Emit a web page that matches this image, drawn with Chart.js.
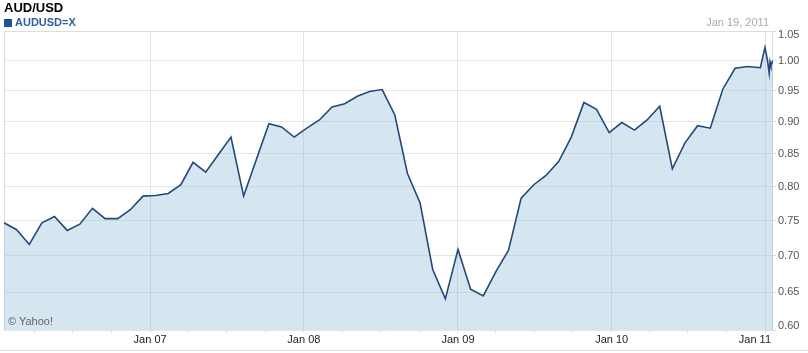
<!DOCTYPE html>
<html><head><meta charset="utf-8">
<script src="https://cdn.jsdelivr.net/npm/chart.js@4/dist/chart.umd.min.js"></script>
<style>
html,body{margin:0;padding:0;background:#fff;}
#wrap{position:relative;width:808px;height:353px;overflow:hidden;font-family:"Liberation Sans",Arial,sans-serif;}
canvas{position:absolute;left:0;top:0;}
.t{position:absolute;white-space:nowrap;}
</style></head><body>
<div id="wrap">
<canvas id="c" width="808" height="353"></canvas>
<div class="t" style="left:4px;top:1px;font-size:13px;line-height:13px;font-weight:bold;color:#000;">AUD/USD</div>
<div class="t" style="left:4px;top:17px;font-size:11px;line-height:11px;font-weight:bold;color:#2e6099;"><span style="display:inline-block;width:8px;height:8px;background:#1f5590;margin-right:3px;vertical-align:-1px;"></span>AUDUSD=X</div>
<div class="t" style="right:39px;top:17px;font-size:11px;line-height:11px;color:#ababab;">Jan 19, 2011</div>
<div class="t" style="left:8px;top:316px;font-size:11px;line-height:11px;color:#666;">© Yahoo!</div>
<div style="position:absolute;left:0;top:350px;width:808px;height:1px;background:#dcdcdc"></div>
</div>
<script>
// ---- data ----
const dates = [
 '2006-01-19','2006-02-18','2006-03-20','2006-04-19','2006-05-19','2006-06-18','2006-07-18','2006-08-17',
 '2006-09-16','2006-10-16','2006-11-15','2006-12-15','2007-01-14','2007-02-13','2007-03-15','2007-04-13',
 '2007-05-13','2007-06-12','2007-07-12','2007-08-11','2007-09-10','2007-10-10','2007-11-09','2007-12-09',
 '2008-01-08','2008-02-07','2008-03-08','2008-04-07','2008-05-07','2008-06-05','2008-07-05','2008-08-04',
 '2008-09-03','2008-10-03','2008-11-02','2008-12-02','2009-01-01','2009-01-31','2009-03-02','2009-04-01',
 '2009-05-01','2009-05-31','2009-06-30','2009-07-29','2009-08-28','2009-09-27','2009-10-27','2009-11-26',
 '2009-12-26','2010-01-25','2010-02-24','2010-03-26','2010-04-25','2010-05-25','2010-06-24','2010-07-24',
 '2010-08-23','2010-09-22','2010-10-21','2010-11-20','2010-12-20',
 '2010-12-31','2011-01-06','2011-01-10','2011-01-12','2011-01-14','2011-01-19'
];
const closes = [
 0.747,0.737,0.716,0.747,0.756,0.736,0.745,0.768,
 0.753,0.753,0.766,0.786,0.787,0.790,0.803,0.837,
 0.822,0.849,0.876,0.786,0.841,0.897,0.892,0.876,
 0.890,0.903,0.924,0.929,0.941,0.949,0.952,0.911,
 0.820,0.776,0.681,0.641,0.709,0.654,0.645,0.678,
 0.708,0.783,0.803,0.817,0.838,0.876,0.931,0.920,
 0.883,0.899,0.887,0.903,0.925,0.827,0.867,0.894,
 0.890,0.953,0.987,0.990,0.988,
 1.022,1.000,0.979,0.998,0.992,1.000
];
const yTickValues = [0.60,0.65,0.70,0.75,0.80,0.85,0.90,0.95,1.00,1.05];
const xTickDates = ['2006-04-01','2006-07-01','2006-10-01','2007-01-01','2007-04-01','2007-07-01','2007-10-01',
 '2008-01-01','2008-04-01','2008-07-01','2008-10-01','2009-01-01','2009-04-01','2009-07-01','2009-10-01',
 '2010-01-01','2010-04-01','2010-07-01','2010-10-01','2011-01-01'];
const xTickLabels = ['','','','Jan 07','','','','Jan 08','','','','Jan 09','','','','Jan 10','','','','Jan 11'];
const rangeStart = '2006-01-19';
const rangeEnd = '2011-01-19';

const ms = s => new Date(s + 'T00:00:00Z').getTime();

// square-root value scale (the reference axis spacing follows sqrt); end labels kept inside the plot
class SqrtScale extends Chart.LinearScale {
  getPixelForValue(value) {
    if (value === null || value === undefined || isNaN(value)) return NaN;
    const a = Math.sqrt(this.min), b = Math.sqrt(this.max);
    return this.getPixelForDecimal((Math.sqrt(value) - a) / (b - a));
  }
  getValueForPixel(pixel) {
    const a = Math.sqrt(this.min), b = Math.sqrt(this.max);
    const s = a + this.getDecimalForPixel(pixel) * (b - a);
    return s * s;
  }
  _computeLabelItems(chartArea) {
    const items = super._computeLabelItems(chartArea);
    items.forEach(it => {
      const t = it.options.translation;
      t[1] = Math.max(this.top + 4, Math.min(this.bottom - 4, t[1]));
    });
    return items;
  }
}
SqrtScale.id = 'sqrt';

// linear time axis whose labels are kept inside the plot width
class InsideLinear extends Chart.LinearScale {
  _computeLabelItems(chartArea) {
    const items = super._computeLabelItems(chartArea);
    const ctx = this.ctx;
    items.forEach(it => {
      if (!it.label) return;
      ctx.save();
      ctx.font = it.font.string;
      const w = ctx.measureText(it.label).width;
      ctx.restore();
      const t = it.options.translation;
      t[0] = Math.min(this.right - 2 - w / 2, Math.max(this.left + w / 2, t[0]));
    });
    return items;
  }
}
InsideLinear.id = 'insideLinear';
Chart.register(SqrtScale, InsideLinear);

const frame = {
  id: 'frame',
  beforeDatasetsDraw(chart) {
    const {ctx, chartArea: a} = chart;
    ctx.save();
    ctx.strokeStyle = '#dddddd';
    ctx.lineWidth = 1;
    ctx.beginPath();
    ctx.moveTo(Math.round(a.left) + 0.5, a.bottom);
    ctx.lineTo(Math.round(a.left) + 0.5, Math.round(a.top) + 0.5);
    ctx.lineTo(Math.round(a.right) - 0.5, Math.round(a.top) + 0.5);
    ctx.lineTo(Math.round(a.right) - 0.5, a.bottom);
    ctx.stroke();
    ctx.restore();
  }
};

const pts = dates.map((d, i) => ({x: ms(d), y: closes[i]}));
const xTickMs = xTickDates.map(ms);
const labelFor = v => { const i = xTickMs.indexOf(v); return i >= 0 ? xTickLabels[i] : ''; };

new Chart(document.getElementById('c'), {
  type: 'line',
  data: { datasets: [{
    label: 'AUDUSD=X',
    data: pts,
    borderColor: '#22497a',
    borderWidth: 1.6,
    backgroundColor: 'rgba(152,192,220,0.40)',
    fill: 'start',
    pointRadius: 0,
    tension: 0
  }]},
  options: {
    responsive: false,
    animation: false,
    devicePixelRatio: 1,
    layout: { padding: { left: 4, top: 31, right: 0, bottom: 0 } },
    plugins: { legend: { display: false }, tooltip: { enabled: false } },
    scales: {
      x: {
        type: 'insideLinear',
        min: ms(rangeStart), max: ms(rangeEnd),
        afterBuildTicks: s => { s.ticks = xTickMs.map(v => ({value: v})); },
        afterFit: s => { s.height = 23; },
        border: { display: false },
        grid: {
          color: c => (c.tick && labelFor(c.tick.value)) ? '#e2e2e2' : 'rgba(0,0,0,0)',
          tickColor: '#e0e0e0',
          tickLength: 3,
          drawOnChartArea: true
        },
        ticks: {
          autoSkip: false, maxRotation: 0, padding: 0,
          color: '#222',
          font: { family: '"Liberation Sans", Arial, sans-serif', size: 11 },
          callback: v => labelFor(v)
        }
      },
      y: {
        type: 'sqrt',
        position: 'right',
        min: 0.60, max: 1.05,
        afterBuildTicks: s => { s.ticks = yTickValues.map(v => ({value: v})); },
        afterFit: s => { s.width = 35; },
        border: { display: false },
        grid: { color: '#e6e6e6', tickColor: '#d8d8d8', tickLength: 3 },
        ticks: {
          padding: 2,
          color: '#555',
          font: { family: '"Liberation Sans", Arial, sans-serif', size: 11 },
          callback: v => Number(v).toFixed(2)
        }
      }
    }
  },
  plugins: [frame]
});
</script>
</body></html>
